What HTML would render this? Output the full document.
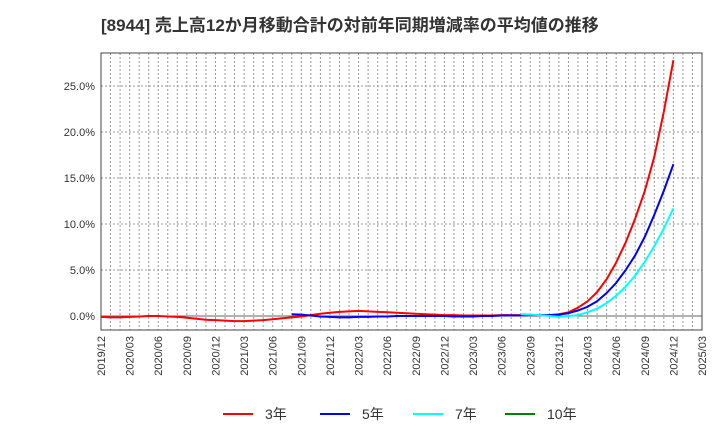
<!DOCTYPE html>
<html><head><meta charset="utf-8">
<style>
html,body{margin:0;padding:0;background:#fff;}
body{width:720px;height:440px;overflow:hidden;font-family:"Liberation Sans","Noto Sans CJK JP",sans-serif;}
</style></head>
<body>
<svg id="chart" width="720" height="440" xmlns="http://www.w3.org/2000/svg" font-family="Liberation Sans, Noto Sans CJK JP, sans-serif">
<text x="101" y="31" font-size="17" font-weight="bold" fill="#333">[8944]  売上高12か月移動合計の対前年同期増減率の平均値の推移</text>
<g id="grid"></g>
<g id="axes"></g>
<g id="series"></g>
<g id="legend"></g>
</svg>
<script>
const xTickLabels=["2019/12","2020/03","2020/06","2020/09","2020/12","2021/03","2021/06","2021/09","2021/12","2022/03","2022/06","2022/09","2022/12","2023/03","2023/06","2023/09","2023/12","2024/03","2024/06","2024/09","2024/12","2025/03"];
const yTicks=[0,5,10,15,20,25];
const yTickLabels=["0.0%","5.0%","10.0%","15.0%","20.0%","25.0%"];
const tail3=[0.4,0.9,1.6,2.6,4.0,5.8,8.0,10.6,13.6,17.3,22.2,27.8];
const tail5=[0.3,0.6,1.0,1.6,2.5,3.6,5.0,6.6,8.6,11.0,13.6,16.5];
const tail7=[0.0,0.1,0.4,0.8,1.4,2.2,3.2,4.4,5.9,7.6,9.5,11.7];
const s3=[-0.1,-0.15,-0.15,-0.1,-0.05,0,0,-0.05,-0.1,-0.2,-0.3,-0.4,
-0.45,-0.5,-0.55,-0.55,-0.5,-0.45,-0.35,-0.25,-0.15,-0.05,0.1,0.25,
0.35,0.45,0.5,0.55,0.5,0.45,0.4,0.35,0.3,0.25,0.2,0.15,
0.1,0.1,0.05,0.05,0.05,0.05,0.1,0.1,0.1,0.1,0.1,0.1,0.2].concat(tail3);
const s5=Array(20).fill(null).concat([0.2,0.15,0.05,-0.05,-0.1,-0.15,-0.15,-0.1,-0.1,-0.05,-0.05,0,0,0,0,0,0,-0.05,-0.05,-0.05,0,0,0.05,0.05,0.05,0.1,0.1,0.1,0.15]).concat(tail5);
const s7=Array(44).fill(null).concat([0.2,0.15,0.1,0,-0.1]).concat(tail7);
const seriesNames=["3年","5年","7年","10年"];
const seriesColors=["#ff0000","#0000ff","#00ffff","#008000"];

const L=101,R=702,T=53,B=330,NM=63;
const NS="http://www.w3.org/2000/svg";
function xS(i){return L+(R-L)*i/NM;}
function yS(v){return 316-v*(316-86)/25;}
function mk(tag,attrs,parent){const e=document.createElementNS(NS,tag);for(const k in attrs)e.setAttribute(k,attrs[k]);parent.appendChild(e);return e;}
const grid=document.getElementById('grid'),axes=document.getElementById('axes'),ser=document.getElementById('series'),leg=document.getElementById('legend');
for(let i=1;i<NM;i++){const l=mk('line',{x1:xS(i),x2:xS(i),y1:T,y2:B,stroke:'#999','stroke-dasharray':'2,2','stroke-width':1},grid);

}
yTicks.forEach((v,i)=>{
 const l=mk('line',{x1:L,x2:R,y1:yS(v),y2:yS(v),stroke:v===0?'#666':'#999','stroke-dasharray':v===0?'':'2,2','stroke-width':1},grid);
 
 
 const t=mk('text',{x:L-6,y:yS(v)+4,'text-anchor':'end','font-size':11,fill:'#333'},axes);
 t.textContent=yTickLabels[i];
 
 
});
xTickLabels.forEach((s,i)=>{
 const x=xS(i*3);
 const t=mk('text',{x:x+4,y:B+6,'text-anchor':'end','font-size':11,fill:'#333',transform:`rotate(-90 ${x+4} ${B+6})`},axes);
 t.textContent=s;
 
 
});
const frame=mk('rect',{x:L,y:T,width:R-L,height:B-T,fill:'none',stroke:'#444','stroke-width':1},axes);


[s3,s5,s7].forEach((arr,k)=>{
 let d='';let started=false;
 arr.forEach((v,i)=>{if(v===null)return;d+=(started?'L':'M')+xS(i).toFixed(1)+','+yS(v).toFixed(1);started=true;});
 const p=mk('path',{d:d,fill:'none',stroke:seriesColors[k],'stroke-width':2,'stroke-linejoin':'round'},ser);
 
 
});
const lx=[223,320,413,505];
seriesNames.forEach((n,k)=>{
 const g=mk('g',{},leg);
 
 
 mk('line',{x1:lx[k],x2:lx[k]+30,y1:414,y2:414,stroke:seriesColors[k],'stroke-width':2},g);
 const t=mk('text',{x:lx[k]+42,y:419,'font-size':14,fill:'#333'},g);
 t.textContent=n;
});
</script>
</body></html>
